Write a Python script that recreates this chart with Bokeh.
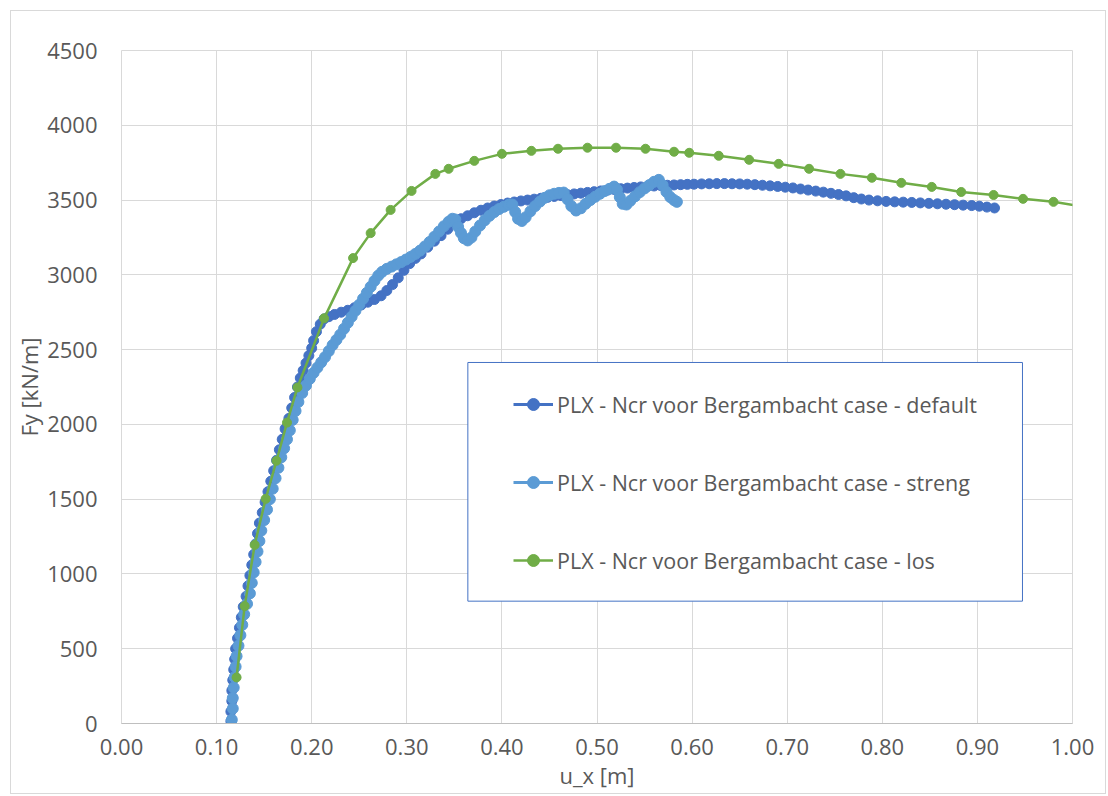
from bokeh.plotting import figure
from bokeh.models import (Range1d, FixedTicker, NumeralTickFormatter, Legend, LegendItem,
                          BoxAnnotation)
from bokeh.embed import file_html
from bokeh.resources import INLINE

# ---------------- data ----------------
default_x = [0.115, 0.115, 0.116, 0.116, 0.117, 0.118, 0.119, 0.120, 0.122, 0.124, 0.126, 0.128,
             0.131, 0.133, 0.135, 0.137, 0.139, 0.141, 0.143, 0.145, 0.148, 0.151, 0.154, 0.157,
             0.160, 0.163, 0.166, 0.169, 0.172, 0.176, 0.179, 0.182, 0.185, 0.188, 0.191, 0.194,
             0.197, 0.200, 0.202, 0.205, 0.209, 0.213,
             0.218, 0.224, 0.231, 0.238, 0.245, 0.252, 0.259,
             0.266, 0.273, 0.279, 0.285, 0.291, 0.297, 0.303, 0.309, 0.315, 0.322, 0.329, 0.336,
             0.343, 0.350, 0.357, 0.364, 0.371, 0.378, 0.385, 0.392, 0.399, 0.406, 0.413, 0.420,
             0.427, 0.434, 0.441, 0.448, 0.455, 0.462, 0.469, 0.476, 0.483, 0.490, 0.497, 0.504,
             0.511, 0.518, 0.525, 0.532, 0.539, 0.546, 0.553, 0.560, 0.567, 0.574, 0.581, 0.588,
             0.595, 0.602, 0.610, 0.618, 0.626, 0.634, 0.642, 0.650, 0.658, 0.666, 0.674, 0.682,
             0.690, 0.698, 0.706, 0.714, 0.722, 0.730, 0.738, 0.746, 0.754, 0.762, 0.770, 0.778,
             0.786, 0.795, 0.804, 0.813, 0.822, 0.831, 0.840, 0.849, 0.858, 0.867, 0.876, 0.885,
             0.894, 0.902, 0.910, 0.918]
default_y = [15, 80, 150, 220, 290, 360, 430, 500, 570, 640, 710, 780,
             850, 920, 990, 1060, 1130, 1200, 1270, 1340, 1410, 1480, 1550, 1620,
             1690, 1760, 1830, 1900, 1970, 2040, 2110, 2180, 2250, 2310, 2360, 2410,
             2460, 2510, 2560, 2620, 2670, 2705,
             2720, 2735, 2750, 2763, 2780, 2798, 2817,
             2835, 2860, 2895, 2935, 2980, 3030, 3075, 3110, 3140, 3185, 3225, 3262,
             3305, 3345, 3375, 3395, 3415, 3432, 3447, 3460, 3470, 3480, 3487, 3494,
             3500, 3506, 3512, 3518, 3524, 3530, 3536, 3541, 3546, 3551, 3556, 3561,
             3566, 3571, 3576, 3580, 3584, 3588, 3591, 3594, 3597, 3599, 3601, 3603,
             3605, 3606, 3608, 3609, 3610, 3610, 3609, 3608, 3606, 3603, 3599, 3595,
             3591, 3586, 3581, 3574, 3567, 3560, 3553, 3545, 3537, 3528, 3516, 3507,
             3500, 3495, 3491, 3488, 3486, 3484, 3481, 3478, 3475, 3472, 3469, 3466,
             3463, 3459, 3453, 3447]

streng_x = [0.116, 0.117, 0.117, 0.118, 0.119, 0.120, 0.121, 0.123, 0.125, 0.127, 0.129, 0.132,
            0.135, 0.137, 0.139, 0.141, 0.143, 0.145, 0.147, 0.150, 0.153, 0.156, 0.159, 0.162,
            0.165, 0.168, 0.171, 0.174, 0.177, 0.180, 0.183, 0.186, 0.190, 0.194, 0.198, 0.202,
            0.206, 0.210, 0.214, 0.218, 0.222, 0.226, 0.230, 0.234, 0.238, 0.242, 0.246, 0.250,
            0.254, 0.258, 0.262, 0.266, 0.270, 0.274, 0.279, 0.284, 0.289, 0.294, 0.299, 0.304,
            0.309, 0.314, 0.319, 0.324, 0.329, 0.334, 0.339, 0.344, 0.348, 0.351, 0.354, 0.357,
            0.360, 0.364, 0.368, 0.372, 0.377, 0.382, 0.387, 0.392, 0.397, 0.402, 0.407, 0.411,
            0.414, 0.417, 0.421, 0.425, 0.430, 0.435, 0.440, 0.445, 0.450, 0.455, 0.460, 0.465,
            0.469, 0.473, 0.478, 0.483, 0.488, 0.493, 0.498, 0.503, 0.508, 0.513, 0.518, 0.521,
            0.524, 0.527, 0.531, 0.535, 0.540, 0.545, 0.550, 0.555, 0.560, 0.565, 0.569, 0.573,
            0.577, 0.581, 0.584]
streng_y = [25, 100, 170, 240, 310, 380, 450, 520, 590, 660, 730, 800,
            870, 940, 1010, 1080, 1150, 1220, 1290, 1360, 1430, 1500, 1570, 1640,
            1710, 1780, 1840, 1900, 1960, 2030, 2090, 2150, 2210, 2260, 2305, 2345,
            2380, 2415, 2450, 2490, 2530, 2565, 2600, 2640, 2680, 2720, 2760, 2800,
            2840, 2880, 2920, 2960, 2995, 3020, 3040, 3055, 3070, 3085, 3102, 3120,
            3140, 3162, 3190, 3220, 3255, 3290, 3325, 3355, 3375, 3370, 3320, 3280,
            3245, 3230, 3250, 3290, 3330, 3365, 3395, 3420, 3440, 3455, 3468, 3470,
            3420, 3375, 3360, 3385, 3425, 3460, 3490, 3515, 3532, 3542, 3548, 3550,
            3505, 3460, 3430, 3445, 3475, 3500, 3522, 3542, 3560, 3575, 3590, 3570,
            3520, 3475, 3470, 3495, 3525, 3553, 3578, 3600, 3622, 3635, 3600, 3555,
            3520, 3500, 3488]

los_x = [0.121, 0.1295, 0.140, 0.1516, 0.163, 0.174, 0.185, 0.213, 0.2435, 0.262, 0.283, 0.305,
         0.330, 0.344, 0.371, 0.400, 0.431, 0.459, 0.490, 0.520, 0.551, 0.581, 0.597, 0.628,
         0.660, 0.691, 0.723, 0.756, 0.789, 0.820, 0.852, 0.883, 0.917, 0.948, 0.980, 1.012]
los_y = [308, 785, 1194, 1502, 1757, 2012, 2247, 2709, 3112, 3279, 3434, 3561,
         3675, 3709, 3762, 3809, 3829, 3843, 3850, 3850, 3843, 3823, 3816, 3796,
         3769, 3742, 3709, 3675, 3649, 3615, 3588, 3554, 3534, 3508, 3488, 3455]

series_names = ["PLX - Ncr voor Bergambacht case - default",
                "PLX - Ncr voor Bergambacht case - streng",
                "PLX - Ncr voor Bergambacht case - los"]
series_colors = ["#4472C4", "#5B9BD5", "#70AD47"]

x_ticks = [0.0, 0.1, 0.2, 0.3, 0.4, 0.5, 0.6, 0.7, 0.8, 0.9, 1.0]
y_ticks = [0, 500, 1000, 1500, 2000, 2500, 3000, 3500, 4000, 4500]

# ---------------- figure ----------------
FONT = "Open Sans"
TXT = "#595959"
GRID = "#d9d9d9"

p = figure(width=1096, height=784, output_backend="svg", toolbar_location=None,
           x_range=Range1d(0, 1.0), y_range=Range1d(0, 4500),
           min_border_left=110, min_border_right=35, min_border_top=39, min_border_bottom=72,
           x_axis_label="u_x [m]", y_axis_label="Fy [kN/m]")
p.margin = (10, 0, 0, 10)
p.styles = {"border": "1px solid #d9d9d9"}
p.background_fill_color = "white"
p.border_fill_color = "white"
p.outline_line_color = GRID

p.xaxis.ticker = FixedTicker(ticks=x_ticks)
p.yaxis.ticker = FixedTicker(ticks=y_ticks)
p.xaxis.formatter = NumeralTickFormatter(format="0.00")
p.yaxis.formatter = NumeralTickFormatter(format="0")
p.xgrid.ticker = FixedTicker(ticks=x_ticks)
p.ygrid.ticker = FixedTicker(ticks=y_ticks)
p.grid.grid_line_color = GRID
p.grid.grid_line_width = 1

for ax in (p.xaxis[0], p.yaxis[0]):
    ax.major_tick_line_color = None
    ax.minor_tick_line_color = None
    ax.major_label_text_font = FONT
    ax.major_label_text_font_size = "22px"
    ax.major_label_text_color = TXT
    ax.axis_label_text_font = FONT
    ax.axis_label_text_font_size = "22px"
    ax.axis_label_text_color = TXT
    ax.axis_label_text_font_style = "normal"
p.xaxis.axis_line_color = "#bfbfbf"
p.yaxis.axis_line_color = None
p.xaxis.major_label_standoff = 9
p.xaxis.axis_label_standoff = 2
p.yaxis.major_label_standoff = 18
p.yaxis.axis_label_standoff = 0

# legend frame
p.add_layout(BoxAnnotation(left=0.3642, right=0.9474, bottom=818, top=2414,
                           fill_color="white", fill_alpha=1.0,
                           line_color="#4472C4", line_width=1, line_alpha=1.0))

items = []
data = [(default_x, default_y, 10, 3), (streng_x, streng_y, 11, 3), (los_x, los_y, 9, 2.5)]
for (xs, ys, msize, lw), name, col in zip(data, series_names, series_colors):
    r1 = p.line(xs, ys, line_color=col, line_width=lw)
    r2 = p.scatter(xs, ys, size=msize, fill_color=col, line_color=col)
    items.append(LegendItem(label=name, renderers=[r1, r2]))

legend = Legend(items=items, location=(392, 148), orientation="vertical",
                padding=0, margin=0, spacing=48, glyph_width=40, glyph_height=30,
                label_height=30, label_standoff=4,
                label_text_font=FONT, label_text_font_size="21.5px", label_text_color=TXT,
                border_line_color=None, background_fill_alpha=0.0)
p.add_layout(legend, "center")

open("out.html", "w").write(file_html(p, INLINE))
